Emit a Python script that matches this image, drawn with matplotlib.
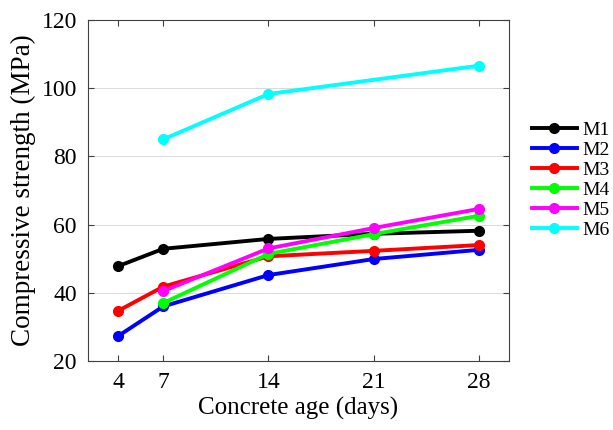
import matplotlib
matplotlib.use("Agg")
import matplotlib.pyplot as plt

plt.rcParams['font.family'] = ['Liberation Serif', 'DejaVu Serif']

# concrete age (days)
ages_m1 = [4, 7, 14, 21, 28]
m1 = [47.8, 52.9, 55.8, 57.3, 58.2]
ages_m2 = [4, 7, 14, 21, 28]
m2 = [27.3, 36.0, 45.2, 49.9, 52.6]
ages_m3 = [4, 7, 14, 21, 28]
m3 = [34.7, 41.8, 50.7, 52.3, 54.0]
ages_m4 = [7, 14, 21, 28]
m4 = [37.0, 51.4, 57.2, 62.6]
ages_m5 = [7, 14, 21, 28]
m5 = [40.5, 53.0, 59.0, 64.6]
ages_m6 = [7, 14, 28]
m6 = [85.0, 98.3, 106.6]

series = [
    ("M1", ages_m1, m1, "black"),
    ("M2", ages_m2, m2, "#0000ff"),
    ("M3", ages_m3, m3, "#ff0000"),
    ("M4", ages_m4, m4, "#00ff00"),
    ("M5", ages_m5, m5, "#ff00ff"),
    ("M6", ages_m6, m6, "#00ffff"),
]

fig = plt.figure(figsize=(6.13, 4.30), dpi=100)
ax = fig.add_axes([0.1436, 0.1605, 0.8305 - 0.1436, 0.9535 - 0.1605])

for name, x, y, c in series:
    ax.plot(x, y, color=c, linewidth=2.8, marker="o", markersize=7, label=name)

ax.set_xlim(2, 30)
ax.set_ylim(20, 120)
ax.set_xticks([4, 7, 14, 21, 28])
ax.set_yticks([20, 40, 60, 80, 100, 120])
ax.yaxis.grid(True, color="#dadada", linewidth=0.7)
ax.set_axisbelow(True)
ax.tick_params(direction="in", top=True, right=True, labelsize=17, length=4,
               color="#404040", pad=8)
for s in ax.spines.values():
    s.set_color("#404040")
    s.set_linewidth(0.8)

ax.set_xlabel("Concrete age (days)", fontsize=18, labelpad=3)
ax.set_ylabel("Compressive strength (MPa)", fontsize=19.5, labelpad=4)

fig.legend(loc="upper left", bbox_to_anchor=(0.868, 0.718), frameon=False,
           fontsize=14, handlelength=2.3, handletextpad=0.3, labelspacing=0.12,
           borderaxespad=0, borderpad=0)

fig.savefig("out.png", dpi=100)
